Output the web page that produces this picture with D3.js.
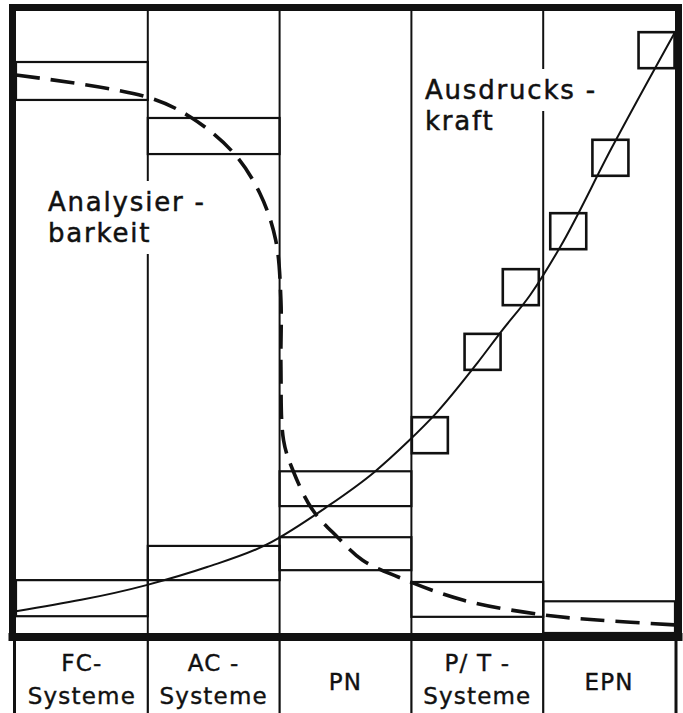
<!DOCTYPE html>
<html>
<head>
<meta charset="utf-8">
<script src="https://cdn.jsdelivr.net/npm/d3@7"></script>
<style>
  body { margin: 0; background: #fff; }
  svg { display: block; }
</style>
</head>
<body>
<div id="chart"></div>
<script>
"use strict";

// columns of the comparison, left to right
const columns = ["FC", "AC", "PN", "PT", "EPN"];
const columnLabels = [["FC-", "Systeme"], ["AC -", "Systeme"], ["PN"], ["P/ T -", "Systeme"], ["EPN"]];

// Analysierbarkeit: range bar per column [low, high] (scale 0..100)
const analysisRanges = [[85.7, 91.8], [77.0, 82.8], [10.1, 15.4], [2.6, 8.2], [0, 5.1]];
// Ausdruckskraft: range bars for the first three columns
const powerColumns = ["FC", "AC", "PN"];
const powerRanges = [[2.7, 8.5], [8.5, 14.0], [20.4, 26.0]];
// Ausdruckskraft squares in the P/T and EPN columns (x in column units)
const squareX = [3.14, 3.54, 3.83, 4.19, 4.51, 4.86];
const squareY = [31.8, 45.2, 55.6, 64.6, 76.4, 93.7];

// trend curves (x in column units, y 0..100)
const powerCurveX = [0, 0.99, 1.45, 1.90, 2.36, 2.72, 2.97, 3.19, 3.50, 3.69, 3.90, 4.13, 4.52, 5.00];
const powerCurveY = [3.5, 7.7, 10.6, 14.2, 20.3, 25.9, 30.7, 35.4, 43.4, 48.7, 54.3, 62.1, 78.0, 96.6];
const analysisCurveX = [0, 0.99, 1.32, 1.65, 1.85, 1.97, 2.01, 2.01, 2.03, 2.10, 2.25, 2.44, 2.63, 2.90, 3.39, 4.00, 4.41, 5.00];
const analysisCurveY = [89.7, 86.2, 83.0, 77.2, 70.7, 63.2, 53.5, 42.8, 31.0, 26.2, 19.8, 15.4, 11.7, 9.0, 5.3, 2.9, 2.1, 1.3];

const width = 683, height = 713;
const plot = { left: 16, right: 675, top: 11, bottom: 633 };
const ink = "#111";
const font = "DejaVu Sans, sans-serif";

const svg = d3.select("#chart").append("svg")
    .attr("width", width)
    .attr("height", height)
    .style("background", "#fff");

const band = d3.scaleBand().domain(columns).range([plot.left, plot.right]).padding(0);
const x = d3.scaleLinear().domain([0, columns.length]).range([plot.left, plot.right]);
const y = d3.scaleLinear().domain([0, 100]).range([plot.bottom, plot.top]);

// column dividers inside the plot
const inner = d3.range(1, columns.length);
svg.append("g").selectAll("line")
    .data(inner)
    .join("line")
    .attr("x1", d => x(d)).attr("x2", d => x(d))
    .attr("y1", plot.top).attr("y2", plot.bottom)
    .attr("stroke", ink).attr("stroke-width", 2);

// label row below the plot
const labelRow = svg.append("g");
labelRow.selectAll("line")
    .data(inner)
    .join("line")
    .attr("x1", d => x(d)).attr("x2", d => x(d))
    .attr("y1", 637).attr("y2", height)
    .attr("stroke", ink).attr("stroke-width", 2.2);
labelRow.append("line").attr("x1", 14.5).attr("x2", 14.5).attr("y1", 637).attr("y2", height)
    .attr("stroke", ink).attr("stroke-width", 3);
labelRow.append("line").attr("x1", 676).attr("x2", 676).attr("y1", 637).attr("y2", height)
    .attr("stroke", ink).attr("stroke-width", 3);

labelRow.selectAll("text")
    .data(columns)
    .join("text")
    .attr("x", d => band(d) + band.bandwidth() / 2)
    .attr("text-anchor", "middle")
    .style("font", "23px " + font)
    .style("letter-spacing", "1.2px")
    .attr("fill", ink)
    .attr("stroke", ink).attr("stroke-width", 0.4)
    .each(function (d, i) {
        const lines = columnLabels[i];
        const t = d3.select(this);
        const cx = band(d) + band.bandwidth() / 2;
        if (lines.length === 1) {
            t.append("tspan").attr("x", cx).attr("y", 690).text(lines[0]);
        } else {
            lines.forEach((s, j) => t.append("tspan")
                .attr("x", cx)
                .attr("y", j === 0 ? 671 : 704)
                .text(s));
        }
    });

// curve names, with a white knockout that breaks the dividers behind them
const notes = [
    { text: "Analysier -", x: 48, y: 211 },
    { text: "barkeit", x: 48, y: 242 },
    { text: "Ausdrucks -", x: 425, y: 99 },
    { text: "kraft", x: 425, y: 130 }
];
const noteG = svg.append("g");
const noteText = noteG.selectAll("text")
    .data(notes)
    .join("text")
    .attr("x", d => d.x).attr("y", d => d.y)
    .style("font", "26px " + font)
    .style("letter-spacing", "1.8px")
    .attr("fill", ink)
    .attr("stroke", ink).attr("stroke-width", 0.5)
    .text(d => d.text);
noteText.each(function () {
    const b = this.getBBox();
    noteG.insert("rect", "text")
        .attr("x", b.x - 6).attr("y", b.y - 6)
        .attr("width", b.width + 12).attr("height", b.height + 12)
        .attr("fill", "#fff");
});

// range bars
svg.append("g").selectAll("rect")
    .data(columns.map((c, i) => ({ c, r: analysisRanges[i] }))
        .concat(powerColumns.map((c, i) => ({ c, r: powerRanges[i] }))))
    .join("rect")
    .attr("x", d => band(d.c))
    .attr("width", band.bandwidth())
    .attr("y", d => y(d.r[1]))
    .attr("height", d => y(d.r[0]) - y(d.r[1]))
    .attr("fill", "none")
    .attr("stroke", ink).attr("stroke-width", 2.2);

// squares for P/T and EPN
const sq = 36;
svg.append("g").selectAll("rect")
    .data(squareX.map((v, i) => [v, squareY[i]]))
    .join("rect")
    .attr("x", d => x(d[0]) - sq / 2).attr("y", d => y(d[1]) - sq / 2)
    .attr("width", sq).attr("height", sq)
    .attr("fill", "none")
    .attr("stroke", ink).attr("stroke-width", 2.6);

// Ausdruckskraft curve (solid)
const powerLine = d3.line().x(d => x(d[0])).y(d => y(d[1])).curve(d3.curveMonotoneX);
svg.append("path")
    .datum(powerCurveX.map((v, i) => [v, powerCurveY[i]]))
    .attr("d", powerLine)
    .attr("fill", "none")
    .attr("stroke", ink).attr("stroke-width", 2);

// Analysierbarkeit curve (dashed)
const analysisLine = d3.line().x(d => x(d[0])).y(d => y(d[1])).curve(d3.curveCatmullRom.alpha(0.5));
svg.append("path")
    .datum(analysisCurveX.map((v, i) => [v, analysisCurveY[i]]))
    .attr("d", analysisLine)
    .attr("fill", "none")
    .attr("stroke", ink).attr("stroke-width", 3.6)
    .attr("stroke-dasharray", "24,11");

// heavy outer frame
const frame = svg.append("g").attr("stroke", ink).attr("stroke-linecap", "square");
frame.append("line").attr("x1", 12.5).attr("x2", 678.5).attr("y1", 7.5).attr("y2", 7.5).attr("stroke-width", 7);
frame.append("line").attr("x1", 12.5).attr("x2", 12.5).attr("y1", 7.5).attr("y2", 637).attr("stroke-width", 7);
frame.append("line").attr("x1", 678.5).attr("x2", 678.5).attr("y1", 7.5).attr("y2", 637).attr("stroke-width", 7);
frame.append("line").attr("x1", 12.5).attr("x2", 678.5).attr("y1", 637).attr("y2", 637).attr("stroke-width", 8);
</script>
</body>
</html>
